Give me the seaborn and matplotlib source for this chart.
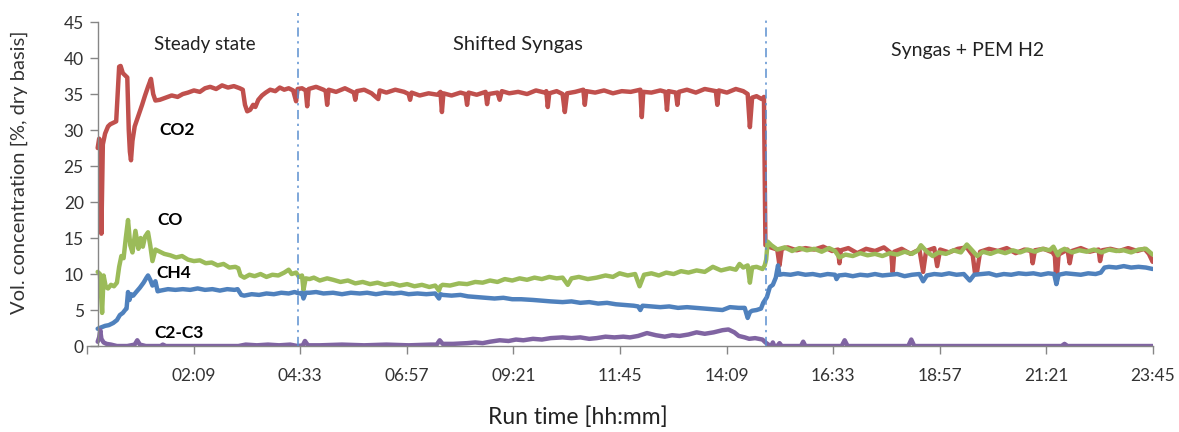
import matplotlib
matplotlib.use("Agg")
import matplotlib.pyplot as plt
import seaborn as sns
import pandas as pd

# ---------------- data (minutes from start, vol. %) ----------------
co2_points = [
    (0, 27.5), (2, 28.8), (3.5, 28.5), (5, 15.6), (7, 28), (10, 29.5), (14, 30.5), (17, 30.8), (21, 31),
    (25, 31.2), (27, 35), (29, 38.8), (31, 38.9), (34, 37.9), (37, 37.6), (40, 37.3), (42, 30), (43.5, 27),
    (45, 25.8), (47, 28.5), (50, 30.5), (55, 32), (60, 33.5), (64, 34.8), (68, 36), (72, 37.1), (75, 35),
    (78, 34.1), (84, 34.2), (92, 34.5), (100, 34.8), (108, 34.6), (115, 35), (122, 35.2), (130, 35.5),
    (138, 35.3), (145, 35.8), (152, 36), (160, 35.7), (168, 36.2), (176, 35.9), (184, 36.1), (192, 35.8),
    (196, 35.6), (199, 33.5), (202, 32.6), (206, 32.8), (210, 33.5), (213, 33.2), (217, 34.2), (222, 34.8),
    (227, 35.2), (233, 35.6), (240, 35.4), (246, 35.9), (252, 35.6), (258, 35.8), (264, 35.5), (268, 34),
    (270, 35.7),
    (276, 35.8), (281, 35.5), (283, 33.3), (285, 35.7), (295, 36), (305, 35.6), (308, 35.4), (310, 33.5),
    (312, 35.6), (322, 35.3), (334, 35.8), (346, 35.2), (348, 34.2), (350, 35.4), (360, 35.6), (370, 35.1),
    (379, 34.3), (381, 35.5), (390, 35.2), (402, 35.6), (414, 35.3), (420, 35), (422, 34.2), (424, 35.2),
    (435, 34.8), (447, 35.1), (459, 34.9), (463, 35.3), (465, 32.5), (467, 35.1), (478, 34.8), (490, 35.2),
    (497, 35), (499, 33.5), (501, 35.2), (512, 34.9), (524, 35.3), (526, 33.6), (528, 35), (540, 35.2),
    (543, 34.2), (546, 35.4), (556, 35.1), (568, 35.3), (580, 35), (592, 35.5), (604, 35.2), (606, 35.4),
    (608, 33.2), (610, 35.1), (620, 35.4), (628, 35), (631, 32.5), (634, 35.1), (645, 35.3), (656, 35.6),
    (658, 33.5), (660, 35.4), (672, 35.2), (684, 35.5), (696, 35.1), (708, 35.4), (720, 35.3), (733, 35.6),
    (735, 31.8), (737, 35.3), (748, 35.2), (760, 35.5), (767, 35.3), (769, 32.8), (771, 35.4), (781, 35.2),
    (783, 33.5), (785, 35.3), (796, 35.6), (808, 35.2), (820, 35.7), (835, 35.4), (837, 33.5), (839, 35.5),
    (850, 35.2), (862, 35.7), (872, 35.4), (878, 35), (881, 30.4), (884, 34.5), (890, 34.7), (897, 34.3),
    (900, 34.6), (902, 14),
    (904, 14), (906, 13.8), (912, 13.6), (918, 13.4), (921, 11.2), (924, 13.5), (932, 13.7), (944, 13.3),
    (956, 13.6), (968, 13.4), (980, 13.8), (992, 13.2), (1000, 13.4), (1002, 11.5), (1004, 13.3), (1014, 13.6),
    (1026, 12.9), (1038, 13.5), (1050, 13.2), (1062, 13.7), (1072, 12.9), (1074, 10.2), (1076, 13.1),
    (1086, 13.5), (1098, 12.8), (1110, 13.4), (1115, 10.3), (1119, 13.2), (1130, 13.6), (1134, 11.1),
    (1138, 13.4), (1150, 13), (1162, 13.5), (1174, 13.7), (1182, 12.6), (1185, 10.2), (1188, 10.4),
    (1192, 13.1), (1204, 13.5), (1216, 13.2), (1228, 13.6), (1240, 12.9), (1252, 13.4), (1261, 13.2),
    (1263, 11.5), (1266, 13.3), (1278, 13.5), (1290, 13), (1293, 12.5), (1295, 8.7), (1298, 12.7),
    (1310, 13.4), (1313, 11.5), (1316, 13.2), (1328, 13.6), (1340, 13.1), (1352, 13.4), (1354, 11.8),
    (1357, 13.3), (1368, 13.5), (1380, 13.2), (1392, 13.6), (1404, 13.2), (1414, 13.5), (1420, 12.8),
    (1425, 11.7),
]

co_points = [
    (0, 10.3), (3, 10), (6, 4.6), (8, 9.8), (11, 8.2), (14, 8), (18, 8.5), (22, 8.3), (26, 8.8), (29, 11),
    (32, 12.5), (35, 12.2), (38, 15), (41, 17.5), (44, 14), (47, 13), (51, 16), (55, 13.5), (58, 15),
    (61, 13.8), (64, 15.2), (68, 15.8), (71, 14), (74, 11.8), (78, 13.4), (82, 13.2), (90, 12.8), (98, 12.6),
    (106, 12.3), (114, 12.5), (122, 12), (130, 11.8), (138, 11.9), (146, 11.5), (154, 11.6), (162, 11.2),
    (170, 11.4), (178, 10.9), (186, 11), (190, 10.8), (193, 9.8), (198, 9.5), (205, 9.9), (212, 9.7),
    (220, 10), (228, 9.6), (236, 9.9), (244, 9.8), (252, 10.2), (258, 10.6), (262, 10), (268, 10.2),
    (272, 9.6), (276, 9.8), (278, 7.8), (281, 9.4),
    (286, 9.3), (292, 9.5), (300, 9.1), (310, 9.4), (318, 9.2), (328, 8.9), (338, 9.1), (348, 8.7),
    (358, 8.9), (368, 8.6), (378, 8.8), (388, 8.5), (398, 8.7), (408, 8.4), (418, 8.6), (428, 8.3),
    (438, 8.5), (448, 8.2), (456, 8.4), (461, 7.7), (463, 8.3), (466, 8.5), (476, 8.4), (488, 8.7),
    (499, 8.6), (510, 8.9), (520, 8.8), (530, 9.1), (540, 8.9), (550, 9.3), (560, 9.1), (570, 9.4),
    (580, 9.2), (590, 9.5), (600, 9.3), (610, 9.6), (620, 9.4), (628, 9.5), (635, 8.5), (640, 9.4),
    (650, 9.6), (662, 9.3), (674, 9.5), (686, 9.8), (696, 9.6), (705, 10.1), (716, 9.8), (726, 10),
    (732, 8.3), (738, 9.9), (748, 10.1), (758, 9.8), (768, 10.2), (778, 10), (788, 10.4), (798, 10.2),
    (809, 10.5), (820, 10.3), (831, 11), (842, 10.5), (854, 10.8), (862, 10.6), (867, 11.4), (872, 10.9),
    (878, 11.2), (881, 8.8), (884, 10.9), (890, 11), (898, 10.7), (901, 11.2),
    (903, 12), (905, 14.5), (910, 14), (918, 13.4), (928, 13.7), (938, 13.2), (948, 13.6), (958, 13.3),
    (968, 13.5), (978, 13.1), (988, 13.6), (996, 13.2), (1002, 12.3), (1010, 12.7), (1020, 12.5),
    (1030, 12.9), (1040, 12.6), (1050, 12.8), (1060, 12.5), (1070, 12.9), (1080, 12.7), (1090, 13.1),
    (1100, 12.8), (1108, 13.3), (1112, 14), (1120, 13.1), (1128, 12.5), (1136, 13), (1146, 12.8),
    (1156, 13.3), (1166, 13), (1174, 14.1), (1182, 13.2), (1188, 12.5), (1196, 13.1), (1206, 12.8),
    (1216, 13.2), (1226, 12.9), (1236, 13.3), (1246, 13), (1256, 13.4), (1266, 13.1), (1276, 13.5),
    (1286, 13.3), (1291, 13.8), (1297, 12.6), (1300, 13.2), (1306, 13.5), (1316, 13), (1326, 13.3),
    (1336, 13.1), (1346, 13.4), (1356, 13), (1366, 13.4), (1376, 13.2), (1386, 13.3), (1396, 13),
    (1406, 13.4), (1416, 13.5), (1425, 12.7),
]

ch4_points = [
    (0, 2.4), (5, 2.6), (10, 2.8), (15, 2.9), (21, 3.2), (26, 3.6), (30, 4.3), (34, 4.6), (37, 5), (39, 5.2),
    (41, 7.5), (43, 6.4), (45, 7.2), (48, 7), (52, 7.5), (57, 8.1), (62, 8.8), (66, 9.5), (68, 9.8),
    (71, 9.2), (74, 8.4), (78, 9), (81, 7.6), (85, 7.7), (95, 7.9), (105, 7.8), (115, 7.9), (125, 7.8),
    (135, 8), (145, 7.8), (155, 7.9), (165, 7.7), (175, 7.9), (185, 7.8), (189, 7.9), (194, 7.1), (198, 7.0),
    (208, 7.2), (218, 7.1), (228, 7.3), (238, 7.2), (248, 7.4), (258, 7.3), (266, 7.5), (272, 7.3),
    (276, 7.4), (278, 6.6), (281, 7.4),
    (286, 7.4), (295, 7.5), (305, 7.3), (318, 7.4), (330, 7.2), (342, 7.4), (354, 7.3), (364, 7.4),
    (376, 7.2), (388, 7.4), (400, 7.3), (410, 7.4), (420, 7.2), (432, 7.3), (444, 7.2), (456, 7.3),
    (461, 6.6), (463, 7.2), (466, 7.1), (478, 7.0), (490, 7.1), (500, 6.9), (512, 6.8), (524, 6.7),
    (536, 6.6), (548, 6.7), (560, 6.5), (572, 6.5), (588, 6.4), (600, 6.3), (612, 6.2), (628, 6.1),
    (640, 6.2), (652, 6.0), (664, 6.1), (676, 5.9), (688, 6.0), (700, 5.8), (712, 5.7), (724, 5.6),
    (730, 5.5), (733, 5.0), (736, 5.6), (748, 5.5), (760, 5.4), (772, 5.5), (784, 5.3), (796, 5.4),
    (809, 5.3), (820, 5.2), (832, 5.1), (844, 5.0), (854, 5.4), (866, 5.3), (874, 5.3), (878, 3.9),
    (881, 4.7), (884, 4.9), (890, 5.0), (896, 5.2), (899, 6.0),
    (904, 6.8), (908, 8.2), (912, 8.5), (916, 9.5), (919, 11.2), (921, 9.9), (926, 10), (936, 9.9),
    (946, 10.1), (956, 9.9), (966, 10), (976, 9.8), (986, 10), (996, 9.9), (998, 9.3), (1001, 9.8),
    (1010, 9.9), (1020, 9.7), (1030, 9.9), (1040, 9.8), (1050, 10), (1060, 9.8), (1070, 9.9), (1080, 10),
    (1090, 9.7), (1100, 9.9), (1110, 10), (1115, 9.0), (1120, 9.8), (1130, 10), (1140, 9.9), (1150, 10.1),
    (1160, 9.9), (1170, 10), (1178, 9.1), (1184, 9.9), (1194, 10), (1204, 10.1), (1214, 9.8), (1224, 10),
    (1234, 9.9), (1244, 10.1), (1254, 10), (1264, 10.1), (1274, 9.9), (1284, 10.1), (1292, 10),
    (1295, 8.6), (1298, 9.9), (1308, 10.1), (1318, 10), (1328, 9.9), (1338, 10.1), (1348, 10),
    (1355, 10.2), (1360, 10.9), (1366, 11), (1376, 10.9), (1386, 11.1), (1396, 10.9), (1406, 11),
    (1416, 10.9), (1425, 10.7),
]

c2c3_points = [
    (0, 0.6), (2, 1.2), (3.5, 2.2), (5, 1.0), (8, 0.5), (12, 0.3), (18, 0.2), (26, 0), (40, 0), (50, 0.2),
    (53.5, 0.8), (57, 0.2), (65, 0), (85, 0), (88, 0.2), (92, 0), (120, 0), (150, 0), (190, 0), (200, 0.2),
    (215, 0.1), (230, 0.2), (245, 0.1), (260, 0.2), (270, 0), (277, 0.1), (280, 0.7), (284, 0.1),
    (300, 0.1), (330, 0.2), (360, 0.1), (390, 0.2), (420, 0.1), (450, 0.2), (458, 0.2), (462, 0.8),
    (466, 0.3), (480, 0.3), (499, 0.4), (510, 0.5), (520, 0.4), (530, 0.6), (543, 0.8), (555, 0.7),
    (565, 0.9), (575, 0.8), (588, 1.0), (600, 0.9), (612, 1.1), (628, 1.2), (640, 1.1), (652, 1.2),
    (664, 1.0), (674, 1.1), (686, 1.3), (698, 1.2), (710, 1.3), (719, 1.2), (730, 1.4), (742, 1.8),
    (754, 1.5), (766, 1.3), (776, 1.5), (786, 1.4), (798, 1.6), (809, 1.9), (820, 1.7), (832, 1.9),
    (844, 2.2), (852, 2.3), (860, 1.9), (866, 1.4), (874, 1.2), (880, 1.0), (888, 1.1), (898, 0.9),
    (902, 0.5), (906, 0.2), (910, 0), (912, 0.5), (914, 0), (918, 0), (921, 0.4), (924, 0), (950, 0),
    (953, 0.6), (956, 0), (1005, 0), (1009, 0.8), (1013, 0), (1095, 0), (1099, 0.9), (1103, 0),
    (1302, 0), (1306, 0.3), (1310, 0), (1425, 0),
]

series_names = ["CO2", "CO", "CH4", "C2-C3"]
series_colors = ["#C0504D", "#9BBB59", "#4F81BD", "#8064A2"]
series_label_pos = [(107, 30.0), (98, 17.5), (103, 10.1), (110, 1.8)]

x_tick_positions = [-14.4, 129.6, 273.6, 417.6, 561.6, 705.6, 849.6, 993.6, 1137.6, 1281.6, 1425.6]
x_tick_labels = ["", "02:09", "04:33", "06:57", "09:21", "11:45", "14:09", "16:33", "18:57", "21:21", "23:45"]
y_ticks = [0, 5, 10, 15, 20, 25, 30, 35, 40, 45]

phase_boundaries = [270, 903]
phase_labels = ["Steady state", "Shifted Syngas", "Syngas + PEM H2"]
phase_label_pos = [(145, 41.9), (568, 41.9), (1175, 41.1)]
phase_label_sizes = [13.5, 14.5, 14]

# ---------------- build table ----------------
frames = []
for name, pts in zip(series_names, [co2_points, co_points, ch4_points, c2c3_points]):
    d = pd.DataFrame(pts, columns=["t", "v"])
    d["series"] = name
    frames.append(d)
df = pd.concat(frames, ignore_index=True)

# ---------------- plot ----------------
sns.set_theme(style="white")
plt.rcParams["font.family"] = ["Lato", "DejaVu Sans"]

fig = plt.figure(figsize=(11.79, 4.32), dpi=100)
ax = fig.add_axes([0.0738, 0.199, 0.978 - 0.0738, 0.949 - 0.199])

sns.lineplot(data=df, x="t", y="v", hue="series", hue_order=series_names,
             palette=dict(zip(series_names, series_colors)), estimator=None, sort=False,
             linewidth=3.2, legend=False, ax=ax)
for ln in ax.get_lines():
    ln.set_solid_joinstyle("round")
    ln.set_solid_capstyle("round")

for xb, ytop in zip(phase_boundaries, [46.2, 45.5]):
    ax.plot([xb, xb], [0, ytop], color="#5B8FD0", lw=1.1, linestyle=(0, (6, 3, 1.5, 3)),
            clip_on=False, zorder=5)

ax.set_xlim(-14.4, 1425.6)
ax.set_ylim(0, 45)
ax.set_xticks(x_tick_positions)
ax.set_xticklabels(x_tick_labels)
ax.set_yticks(y_ticks)

for s in ["top", "right"]:
    ax.spines[s].set_visible(False)
ax.spines["left"].set_position(("data", 0))
for s in ["left", "bottom"]:
    ax.spines[s].set_color("#868686")
    ax.spines[s].set_linewidth(1.0)
    ax.spines[s].set_zorder(4)

ax.tick_params(axis="both", which="major", direction="out", length=6, width=1,
               color="#868686", labelsize=12.5, labelcolor="#333333")
ax.tick_params(axis="x", pad=10)
ax.tick_params(axis="y", pad=4, left=True)
ax.tick_params(axis="x", bottom=True)

ax.set_xlabel("Run time [hh:mm]", fontsize=16.5, color="#222222")
ax.xaxis.set_label_coords(0.46, -0.185)
ax.set_ylabel("Vol. concentration [%, dry basis]", fontsize=14.5, color="#333333")
ax.yaxis.set_label_coords(-0.055, 0.537)

for name, (tx, ty) in zip(series_names, series_label_pos):
    ax.text(tx, ty, name, fontsize=12.5, fontweight="bold", color="black", ha="center", va="center")

for lab, (tx, ty), fs in zip(phase_labels, phase_label_pos, phase_label_sizes):
    ax.text(tx, ty, lab, fontsize=fs, color="#222222", ha="center", va="center")

fig.savefig("out.png", dpi=100)
